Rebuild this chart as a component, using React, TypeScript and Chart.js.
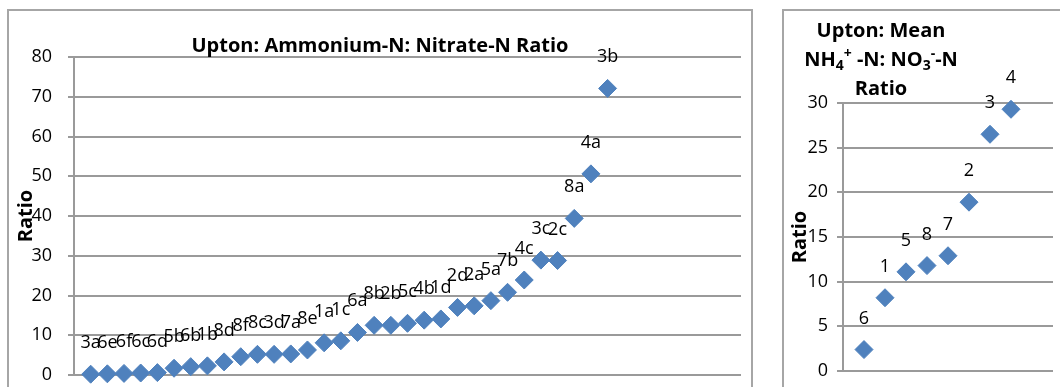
import React, { useEffect, useRef } from 'react';
import { Chart, registerables } from 'chart.js';

Chart.register(...registerables);

// ---- Left chart data: individual samples ----
const sampleLabels = ['3a', '6e', '6f', '6c', '6d', '5b', '6b', '1b', '8d', '8f', '8c', '3d', '7a', '8e', '1a', '1c', '6a', '8b', '2b', '5c', '4b', '1d', '2d', '2a', '5a', '7b', '4c', '3c', '2c', '8a', '4a', '3b'];
const sampleRatios = [0.2, 0.3, 0.4, 0.5, 0.6, 1.7, 2.1, 2.3, 3.3, 4.6, 5.2, 5.2, 5.3, 6.3, 8.1, 8.6, 10.7, 12.5, 12.5, 13.0, 13.8, 14.1, 17.0, 17.4, 18.7, 20.8, 23.9, 28.9, 28.8, 39.4, 50.6, 72.1];
const leftYTicks = { min: 0, max: 80, step: 10 };
const leftXRange = { min: 0, max: 40 };
const leftTitle = 'Upton: Ammonium-N: Nitrate-N Ratio';

// ---- Right chart data: plot means ----
const plotLabels = ['6', '1', '5', '8', '7', '2', '3', '4'];
const plotMeans = [2.4, 8.2, 11.1, 11.8, 12.9, 18.9, 26.5, 29.3];
const rightYTicks = { min: 0, max: 30, step: 5 };
const rightXRange = { min: 0, max: 10 };
type Seg = { text: string; kind?: 'sub' | 'sup' };
const rightTitleLines: Seg[][] = [
  [{ text: 'Upton: Mean' }],
  [{ text: 'NH' }, { text: '4', kind: 'sub' }, { text: '+', kind: 'sup' }, { text: ' -N: NO' }, { text: '3', kind: 'sub' }, { text: '-', kind: 'sup' }, { text: '-N' }],
  [{ text: 'Ratio' }],
];
const axisTitle = 'Ratio';

const BLUE = '#4F81BD';
const GRID = '#9a9a9a';
const FONT = '"Open Sans", "Liberation Sans", sans-serif';

function makeLabelPlugin(labels: string[]) {
  return {
    id: 'pointLabels',
    afterDatasetsDraw(chart: any) {
      const ctx = chart.ctx;
      const meta = chart.getDatasetMeta(0);
      ctx.save();
      ctx.font = `18px ${FONT}`;
      ctx.fillStyle = '#000';
      ctx.textAlign = 'center';
      ctx.textBaseline = 'alphabetic';
      meta.data.forEach((el: any, i: number) => {
        ctx.fillText(labels[i], el.x, el.y - 26);
      });
      ctx.restore();
    },
  };
}

function makeTitlePlugin(lines: Seg[][], cx: number, baselines: number[]) {
  return {
    id: 'richTitle',
    afterDraw(chart: any) {
      const ctx = chart.ctx;
      ctx.save();
      ctx.fillStyle = '#000';
      ctx.textBaseline = 'alphabetic';
      ctx.textAlign = 'left';
      const big = `bold 20px ${FONT}`;
      const small = `bold 14px ${FONT}`;
      lines.forEach((segs, li) => {
        const widths = segs.map((s) => {
          ctx.font = s.kind ? small : big;
          return ctx.measureText(s.text).width;
        });
        const total = widths.reduce((a, b) => a + b, 0);
        let x = cx - total / 2;
        const by = baselines[li];
        segs.forEach((s, i) => {
          ctx.font = s.kind ? small : big;
          const dy = s.kind === 'sub' ? 4 : s.kind === 'sup' ? -8 : 0;
          ctx.fillText(s.text, x, by + dy);
          x += widths[i];
        });
      });
      ctx.restore();
    },
  };
}

function makeConfig(opts: {
  labels: string[];
  values: number[];
  xRange: { min: number; max: number };
  yTicks: { min: number; max: number; step: number };
  padding: { left: number; right: number; top: number; bottom: number };
  axisWidth: number;
  tickPadding: number;
  titlePad: number;
  titlePlugin: any;
}): any {
  const points = opts.values.map((v, i) => ({ x: i + 1, y: v }));
  return {
    type: 'scatter',
    data: {
      datasets: [
        {
          data: points,
          pointStyle: 'rectRot',
          pointRadius: 9,
          pointHoverRadius: 9,
          backgroundColor: BLUE,
          borderColor: BLUE,
          borderWidth: 1,
          clip: false,
        },
      ],
    },
    options: {
      responsive: false,
      animation: false,
      events: [],
      layout: { padding: opts.padding },
      plugins: {
        legend: { display: false },
        title: { display: false },
        tooltip: { enabled: false },
      },
      scales: {
        x: { type: 'linear', min: opts.xRange.min, max: opts.xRange.max, display: false },
        y: {
          type: 'linear',
          min: opts.yTicks.min,
          max: opts.yTicks.max,
          ticks: {
            stepSize: opts.yTicks.step,
            padding: opts.tickPadding,
            color: '#000',
            font: { family: FONT, size: 18 },
          },
          grid: { color: GRID, lineWidth: 2, tickLength: 6, drawTicks: true },
          border: { display: true, color: GRID, width: 2 },
          title: {
            display: true,
            text: axisTitle,
            color: '#000',
            font: { family: FONT, size: 20, weight: 'bold' },
            padding: { top: opts.titlePad, bottom: 0 },
          },
          afterFit(scale: any) {
            scale.width = opts.axisWidth;
          },
        },
      },
    },
    plugins: [makeLabelPlugin(opts.labels), opts.titlePlugin],
  };
}

export default function App() {
  const leftRef = useRef<HTMLCanvasElement>(null);
  const rightRef = useRef<HTMLCanvasElement>(null);

  useEffect(() => {
    const left = new Chart(
      leftRef.current as HTMLCanvasElement,
      makeConfig({
        labels: sampleLabels,
        values: sampleRatios,
        xRange: leftXRange,
        yTicks: leftYTicks,
        padding: { left: 0, right: 9, top: 46, bottom: 56 },
        axisWidth: 65,
        tickPadding: 16,
        titlePad: 5,
        titlePlugin: makeTitlePlugin([[{ text: leftTitle }]], 371, [41]),
      })
    );
    const right = new Chart(
      rightRef.current as HTMLCanvasElement,
      makeConfig({
        labels: plotLabels,
        values: plotMeans,
        xRange: rightXRange,
        yTicks: rightYTicks,
        padding: { left: 0, right: 27, top: 92, bottom: 60 },
        axisWidth: 59,
        tickPadding: 9,
        titlePad: 4,
        titlePlugin: makeTitlePlugin(rightTitleLines, 97, [26, 55, 84]),
      })
    );
    return () => {
      left.destroy();
      right.destroy();
    };
  }, []);

  return (
    <div style={{ position: 'absolute', left: 0, top: 0, width: 1060, height: 387, overflow: 'hidden', background: '#fff' }}>
      <div style={{ position: 'absolute', left: 7, top: 9, width: 746, height: 440, border: '2px solid #a6a6a6', boxSizing: 'border-box' }}>
        <canvas ref={leftRef} width={742} height={420} style={{ position: 'absolute', left: 0, top: 0 }} />
      </div>
      <div style={{ position: 'absolute', left: 782, top: 9, width: 300, height: 440, border: '2px solid #a6a6a6', boxSizing: 'border-box' }}>
        <canvas ref={rightRef} width={296} height={420} style={{ position: 'absolute', left: 0, top: 0 }} />
      </div>
    </div>
  );
}
